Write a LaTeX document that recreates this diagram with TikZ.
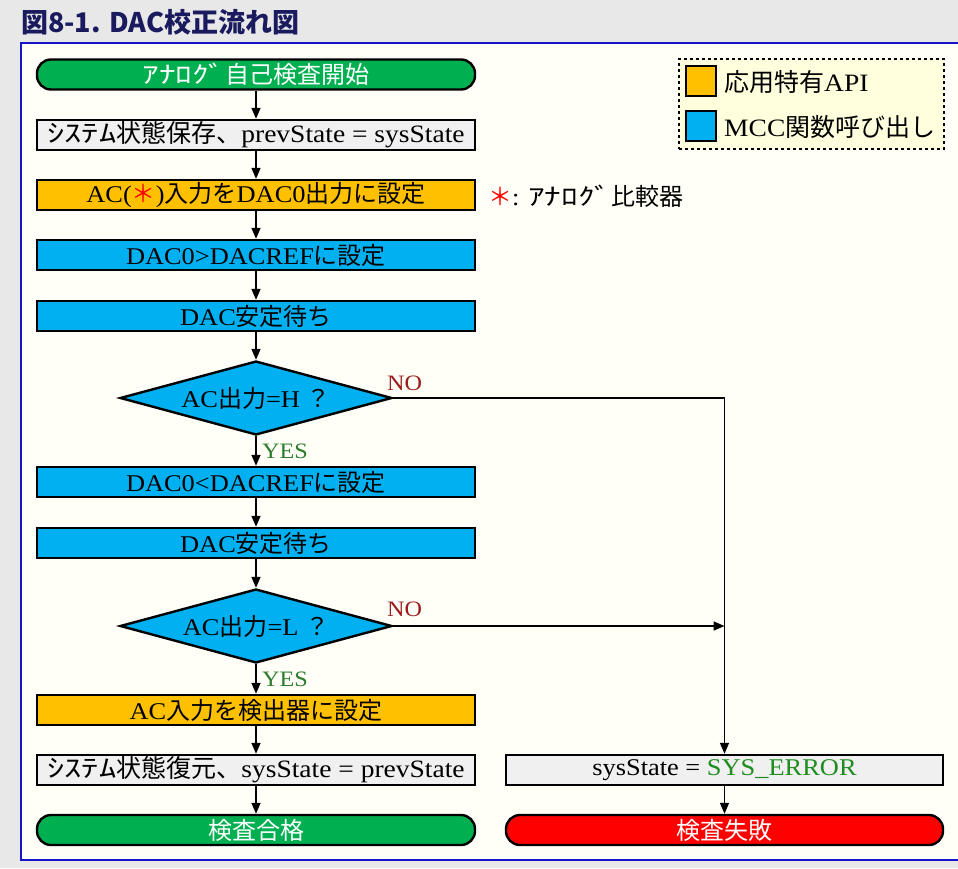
\documentclass[tikz,border=0pt]{standalone}
\usepackage{fontspec}
\setmainfont{Liberation Serif}[FakeStretch=1.1]
\newfontfamily\jp{Noto Sans CJK JP}
\newfontfamily\jph{Noto Sans CJK JP}[FakeStretch=1.38]
\usetikzlibrary{arrows.meta,shapes.geometric}
\definecolor{bggrey}{HTML}{E8E8E8}
\definecolor{cream}{HTML}{FFFFF8}
\definecolor{frameblue}{HTML}{1414C8}
\definecolor{boxgrey}{HTML}{F0F0F0}
\definecolor{appor}{HTML}{FFC000}
\definecolor{mccblue}{HTML}{00B0F0}
\definecolor{termgreen}{HTML}{00B050}
\definecolor{failred}{HTML}{FF0000}
\definecolor{legfill}{HTML}{FFFFDD}
\definecolor{nored}{HTML}{9B1B1B}
\definecolor{yesgreen}{HTML}{2E7D2E}
\definecolor{errgreen}{HTML}{1E8C1E}
\definecolor{titlenavy}{HTML}{1A1A5E}
\tikzset{
  box/.style={draw=black, line width=2.4pt, minimum width=438pt, minimum height=30pt, inner sep=0pt, font=\fontsize{24}{28}\selectfont},
  greybox/.style={box, fill=boxgrey},
  widebox/.style={greybox, font=\fontsize{25}{28}\selectfont},
  appbox/.style={box, fill=appor},
  mccbox/.style={box, fill=mccblue},
  term/.style={box, rounded corners=14pt, text=white},
  dia/.style={diamond, draw=black, line width=2.4pt, fill=mccblue, minimum width=272pt, minimum height=74pt, inner sep=0pt, aspect=3.67, font=\fontsize{24}{28}\selectfont},
  conn/.style={-{Triangle[length=11pt,width=9pt]}, line width=1.5pt},
  yeslab/.style={anchor=west, text=yesgreen, inner sep=0pt, font=\fontsize{22}{26}\selectfont},
  nolab/.style={anchor=west, text=nored, inner sep=0pt, font=\fontsize{22}{26}\selectfont},
  legtext/.style={anchor=west, inner sep=0pt, font=\fontsize{25}{28}\selectfont},
  legsq/.style={draw=black, line width=2.4pt, minimum size=30pt, inner sep=0pt}
}
\begin{document}
\begin{tikzpicture}[x=1pt,y=-1pt]
\useasboundingbox (0,0) rectangle (958,868);
\fill[bggrey] (0,0) rectangle (958,868);
\fill[cream] (21,43) rectangle (958,860);
\draw[frameblue, line width=2pt] (958,43) -- (21,43) -- (21,860) -- (958,860);
\node[anchor=west, text=titlenavy, inner sep=0pt, font=\fontsize{27}{30}\selectfont\jp\bfseries] (title) at (21,22) {図8-1. DAC校正流れ図};

% left column
\node[term, fill=termgreen] (start) at (256,74.5) {{\jph ｱﾅﾛｸﾞ}\jp 自己検査開始};
\node[widebox] (b2) at (256,135) {{\jph ｼｽﾃﾑ}{\jp 状態保存、}prevState = sysState};
\node[appbox] (b3) at (256,195) {AC({\jp\color{failred}＊})\jp 入力を\rmfamily DAC0\jp 出力に設定};
\node[mccbox] (b4) at (256,255) {DAC0>DACREF{\jp に設定}};
\node[mccbox] (b5) at (256,316) {DAC{\jp 安定待ち}};
\node[dia] (d1) at (256,398) {AC{\jp 出力}=H {\jp ？}};
\node[mccbox] (b6) at (256,482) {DAC0<DACREF{\jp に設定}};
\node[mccbox] (b7) at (256,543) {DAC{\jp 安定待ち}};
\node[dia] (d2) at (256,626) {AC{\jp 出力}=L {\jp ？}};
\node[appbox] (b8) at (256,710) {AC{\jp 入力を検出器に設定}};
\node[widebox] (b9) at (256,770) {{\jph ｼｽﾃﾑ}{\jp 状態復元、}sysState = prevState};
\node[term, fill=termgreen] (ok) at (256,830) {\jp 検査合格};

% right column
\node[greybox, minimum width=437pt] (err) at (724.5,770) {sysState = \textcolor{errgreen}{SYS\_ERROR}};
\node[term, fill=failred, minimum width=437pt] (fail) at (724.5,830) {\jp 検査失敗};

% connectors
\draw[conn] (start) -- (b2);
\draw[conn] (b2) -- (b3);
\draw[conn] (b3) -- (b4);
\draw[conn] (b4) -- (b5);
\draw[conn] (b5) -- (d1);
\draw[conn] (d1) -- (b6);
\draw[conn] (b6) -- (b7);
\draw[conn] (b7) -- (d2);
\draw[conn] (d2) -- (b8);
\draw[conn] (b8) -- (b9);
\draw[conn] (b9) -- (ok);
\draw[conn] (err) -- (fail);
\draw[conn] (d1.east) -| (err.north);
\coordinate (j2) at (err.north |- d2.east);
\draw[conn] (d2.east) -- (j2);

\node[yeslab] (y1) at (262,451) {YES};
\node[yeslab] (y2) at (262,679) {YES};
\node[nolab] (n1) at (387,383) {NO};
\node[nolab] (n2) at (387,609) {NO};

% legend
\node[draw=black, dashed, line width=1.2pt, fill=legfill, minimum width=265pt, minimum height=90pt, inner sep=0pt] (leg) at (811.5,104) {};
\node[legsq, fill=appor] (sq1) at (701,81) {};
\node[legtext] (lt1) at (724,82) {{\jp 応用特有}API};
\node[legsq, fill=mccblue] (sq2) at (701,126) {};
\node[legtext] (lt2) at (724,127) {MCC{\jp 関数呼び出し}};

% note
\node[anchor=west, inner sep=0pt, font=\fontsize{24}{28}\selectfont] (note) at (488,196) {{\jp\color{failred}＊}: {\jph ｱﾅﾛｸﾞ}{\jp 比較器}};
\end{tikzpicture}
\end{document}
